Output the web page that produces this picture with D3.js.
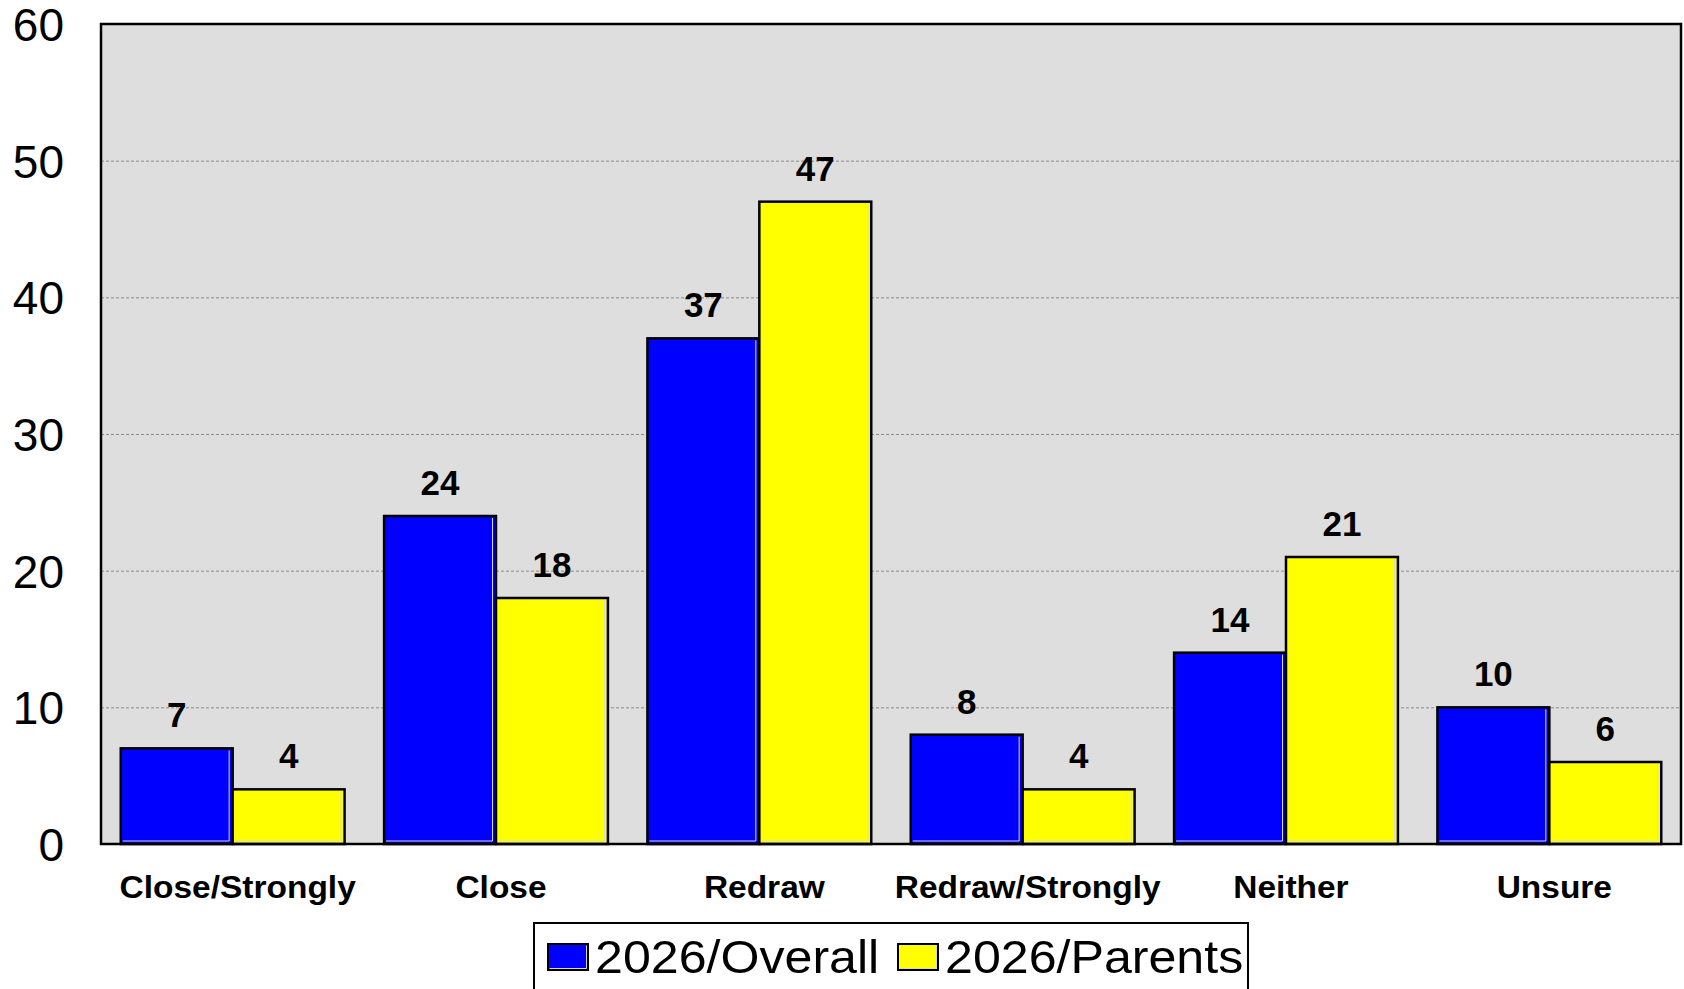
<!DOCTYPE html>
<html>
<head>
<meta charset="utf-8">
<script src="https://cdn.jsdelivr.net/npm/d3@7"></script>
<style>
  html, body { margin: 0; padding: 0; background: #ffffff; }
  svg { display: block; }
  text { font-family: "Liberation Sans", Arial, Helvetica, sans-serif; }
</style>
</head>
<body>
<svg id="chart" width="1684" height="989"></svg>
<script>
const categories = ["Close/Strongly", "Close", "Redraw", "Redraw/Strongly", "Neither", "Unsure"];
const seriesNames = ["2026/Overall", "2026/Parents"];
const overallValues = [7, 24, 37, 8, 14, 10];
const parentsValues = [4, 18, 47, 4, 21, 6];
const yTicks = [0, 10, 20, 30, 40, 50, 60];
const seriesColors = ["#0000ff", "#ffff00"];

(function () {
const seriesValues = [overallValues, parentsValues];
const rows = categories.map((c, i) => ({
  cat: c,
  vals: seriesNames.map((s, j) => ({ series: s, idx: j, value: seriesValues[j][i] }))
}));

const svg = d3.select("#chart");
const pLeft = 101, pRight = 1681, pTop = 24, pBottom = 844;

const x0 = d3.scaleBand().domain(categories).range([pLeft, pRight])
  .paddingInner(0.15).paddingOuter(0.075);
const x1 = d3.scaleBand().domain(seriesNames).range([0, x0.bandwidth()]).padding(0);
const y = d3.scaleLinear().domain([0, 60]).range([pBottom, pTop]);
const color = d3.scaleOrdinal().domain(seriesNames).range(seriesColors);

// plot background
svg.append("rect").attr("x", pLeft).attr("y", pTop)
  .attr("width", pRight - pLeft).attr("height", pBottom - pTop)
  .attr("fill", "#dedede");

// gridlines
svg.append("g").selectAll("line").data(yTicks.filter(t => t > 0 && t < 60)).join("line")
  .attr("x1", pLeft).attr("x2", pRight)
  .attr("y1", d => y(d) + 0.5).attr("y2", d => y(d) + 0.5)
  .attr("stroke", "#8a8a8a").attr("stroke-width", 1)
  .attr("stroke-dasharray", "3,2");

// bars
const groups = svg.append("g").selectAll("g").data(rows).join("g")
  .attr("transform", d => `translate(${x0(d.cat)},0)`);

groups.selectAll("rect.bar").data(d => d.vals).join("rect")
  .attr("class", "bar")
  .attr("x", d => x1(d.series))
  .attr("y", d => y(d.value))
  .attr("width", x1.bandwidth())
  .attr("height", d => y(0) - y(d.value))
  .attr("fill", d => color(d.series))
  .attr("stroke", "#000").attr("stroke-width", 2.5);

// subtle inner highlight (right & bottom edges)
groups.selectAll("path.hl").data(d => d.vals).join("path")
  .attr("class", "hl")
  .attr("d", d => {
    const xr = x1(d.series) + x1.bandwidth() - 3.5;
    const xl = x1(d.series) + 2;
    const yt = y(d.value) + 2;
    const yb = y(0) - 3;
    return `M${xr},${yt}L${xr},${yb}L${xl},${yb}`;
  })
  .attr("fill", "none").attr("stroke", "#d8d8d8").attr("stroke-width", 1);

// value labels
groups.selectAll("text.val").data(d => d.vals).join("text")
  .attr("class", "val")
  .attr("x", d => x1(d.series) + x1.bandwidth() / 2)
  .attr("y", d => y(d.value) - 21)
  .attr("text-anchor", "middle")
  .attr("font-size", 35).attr("font-weight", "bold").attr("fill", "#000")
  .text(d => d.value);

// frame
svg.append("rect").attr("x", pLeft).attr("y", pTop)
  .attr("width", pRight - pLeft).attr("height", pBottom - pTop)
  .attr("fill", "none").attr("stroke", "#000").attr("stroke-width", 2.5);

// y axis labels
const yAxis = d3.axisLeft(y).tickValues(yTicks).tickSize(0).tickPadding(37);
const yg = svg.append("g").attr("transform", `translate(${pLeft},0)`).call(yAxis);
yg.select(".domain").remove();
yg.selectAll("text")
  .attr("font-family", "'Liberation Sans', Arial, sans-serif")
  .attr("font-size", 46).attr("fill", "#000")
  .attr("dy", "0.36em");

// x category labels (slightly widened like the reference)
svg.append("g").selectAll("text").data(categories).join("text")
  .attr("transform", d => `translate(${x0(d) + x0.bandwidth() / 2 + 5},898) scale(1.08,1)`)
  .attr("text-anchor", "middle")
  .attr("font-size", 31).attr("font-weight", "bold").attr("fill", "#000")
  .text(d => d);

// legend
const lg = svg.append("g");
lg.append("rect").attr("x", 534).attr("y", 923).attr("width", 714).attr("height", 80)
  .attr("fill", "#fff").attr("stroke", "#000").attr("stroke-width", 2);
const legendX = [548, 898];
const items = lg.selectAll("g").data(seriesNames).join("g")
  .attr("transform", (d, i) => `translate(${legendX[i]},944)`);
items.append("rect").attr("width", 40).attr("height", 26)
  .attr("fill", d => color(d)).attr("stroke", "#000").attr("stroke-width", 2);
items.append("path").attr("d", "M38.5,1.5L38.5,24.5L1.5,24.5")
  .attr("fill", "none").attr("stroke", "#d8d8d8").attr("stroke-width", 1);
items.append("text")
  .attr("transform", "translate(47,29) scale(1.09,1)")
  .attr("font-size", 46).attr("fill", "#000")
  .text(d => d);
})();
</script>
</body>
</html>
